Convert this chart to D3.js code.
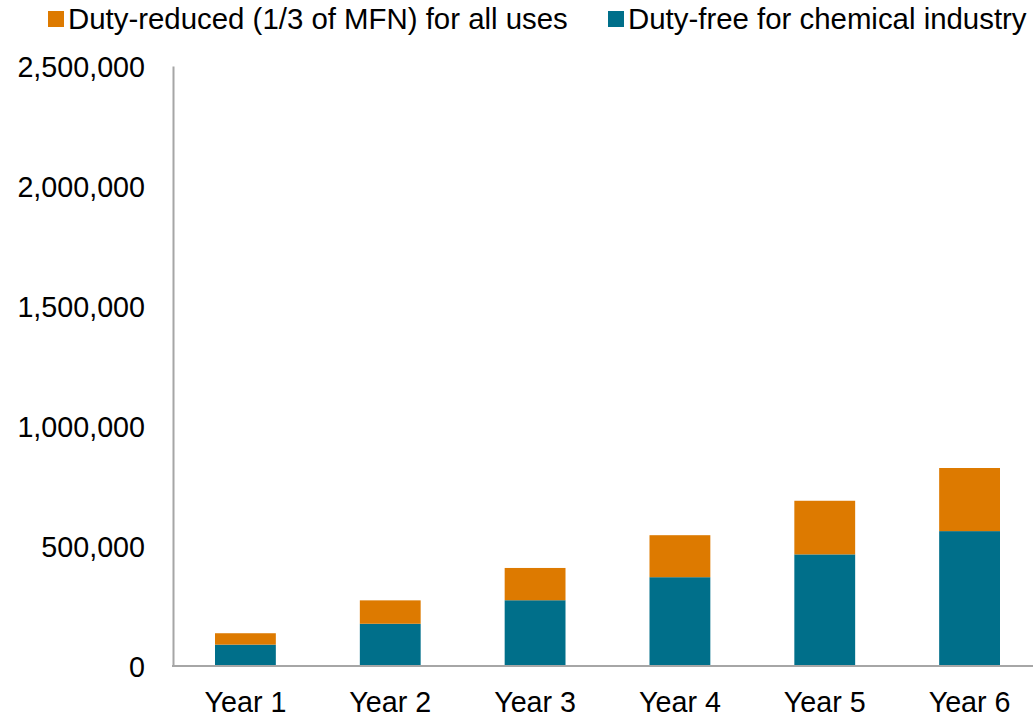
<!DOCTYPE html>
<html>
<head>
<meta charset="utf-8">
<script src="https://cdn.jsdelivr.net/npm/d3@7"></script>
<style>
  body { margin: 0; background: #fff; }
  text { font-family: Arial, "Liberation Sans", sans-serif; fill: #000; }
</style>
</head>
<body>
<div id="chart"></div>
<script>
// chart data
const years = ['Year 1', 'Year 2', 'Year 3', 'Year 4', 'Year 5', 'Year 6']
const dutyFree = [89000, 176000, 274000, 370000, 465000, 562000]
const dutyReduced = [47500, 97500, 134500, 175000, 223500, 263000]
const yTicks = [0, 500000, 1000000, 1500000, 2000000, 2500000]
const seriesNames = ['Duty-reduced (1/3 of MFN) for all uses', 'Duty-free for chemical industry']

const width = 1033
const height = 718
const colors = { free: '#006f8a', reduced: '#dd7a00' }

const svg = d3
  .select('#chart')
  .append('svg')
  .attr('width', width)
  .attr('height', height)

const rows = years.map((y, i) => ({ year: y, free: dutyFree[i], reduced: dutyReduced[i] }))
const stack = d3.stack().keys(['free', 'reduced'])(rows)

const x = d3.scaleBand().domain(years).range([173, 1042]).paddingInner(0.58).paddingOuter(0.29)
const y = d3.scaleLinear().domain([0, 2500000]).range([666, 66])

// bars
svg
  .append('g')
  .selectAll('g')
  .data(stack)
  .join('g')
  .attr('fill', (d) => colors[d.key])
  .selectAll('rect')
  .data((d) => d)
  .join('rect')
  .attr('x', (d) => x(d.data.year))
  .attr('width', x.bandwidth())
  .attr('y', (d) => y(d[1]))
  .attr('height', (d) => y(d[0]) - y(d[1]))

// y axis
const yAxis = svg
  .append('g')
  .attr('transform', 'translate(173,0)')
  .call(d3.axisLeft(y).tickValues(yTicks).tickSize(0).tickPadding(28).tickFormat(d3.format(',')))
yAxis.select('.domain').attr('stroke', '#a6a6a6').attr('stroke-width', 2)
yAxis.selectAll('text').style('font-size', '28.7px').attr('dy', '0.35em')

// x axis
const xAxis = svg
  .append('g')
  .attr('transform', 'translate(0,666)')
  .call(d3.axisBottom(x).tickSize(0).tickPadding(26))
xAxis.select('.domain').remove()
xAxis
  .append('line')
  .attr('x1', 172)
  .attr('x2', width)
  .attr('stroke', '#a6a6a6')
  .attr('stroke-width', 2)
xAxis.selectAll('text').style('font-size', '28.7px')

// legend
const legend = svg.append('g')
const legendItems = [
  { name: seriesNames[0], color: colors.reduced, x: 48 },
  { name: seriesNames[1], color: colors.free, x: 608 },
]
legendItems.forEach((d) => {
  legend.append('rect').attr('x', d.x).attr('y', 11).attr('width', 16).attr('height', 16).attr('fill', d.color)
  legend
    .append('text')
    .attr('x', d.x + 20)
    .attr('y', 19)
    .attr('dy', '0.35em')
    .style('font-size', '29.4px')
    .text(d.name)
})
</script>
</body>
</html>
